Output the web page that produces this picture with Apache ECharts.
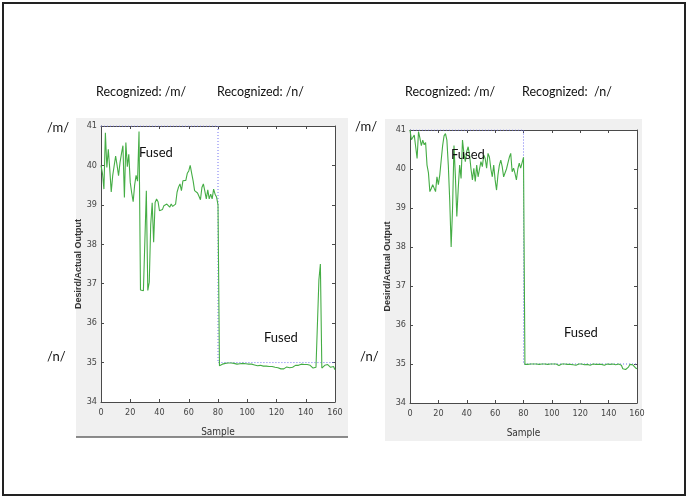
<!DOCTYPE html>
<html>
<head>
<meta charset="utf-8">
<script src="https://cdn.jsdelivr.net/npm/echarts@6/dist/echarts.min.js"></script>
<style>
html,body{margin:0;padding:0;background:#fff;}
#chart{width:688px;height:498px;}
</style>
</head>
<body>
<div id="chart"></div>
<script>
// ---- data ----
var xTicks = [0, 20, 40, 60, 80, 100, 120, 140, 160];
var yTicks = [34, 35, 36, 37, 38, 39, 40, 41];
var desiredX = [0, 80, 80, 160];
var desiredY = [41, 41, 35, 35];
// left panel: actual (fused) output, samples 0..160
var leftActual = [
 40.0, 39.8, 39.4, 40.83, 39.95, 40.41, 39.9, 39.33, 39.74, 39.72,
 40.24, 40.0, 39.74, 40.07, 40.3, 40.5, 39.19, 40.58, 39.97, 40.28,
 39.57, 39.3, 39.08, 39.5, 39.75, 39.6, 40.86, 36.84, 36.82, 36.82,
 36.83, 39.36, 36.83, 37.04, 38.5, 39.05, 38.05, 39.06, 39.15, 39.08,
 38.85, 38.81, 38.88, 38.98, 39.0, 39.02, 38.97, 38.94, 39.02, 38.96,
 38.94, 39.02, 39.32, 39.45, 39.53, 39.36, 39.61, 39.6, 39.62, 39.8,
 39.86, 40.0, 39.8, 39.61, 39.36, 39.33, 39.3, 39.22, 39.13, 39.44,
 39.53, 39.35, 39.15, 39.38, 39.15, 39.27, 39.15, 39.4, 39.27, 39.2,
 39.0, 34.92, 34.94, 34.96, 34.99, 34.98, 34.97, 34.99, 35.0, 34.99,
 34.98, 34.98, 34.97, 34.96, 34.99, 34.97, 34.96, 34.98, 34.99, 34.97,
 34.95, 34.96, 34.98, 34.96, 34.93, 34.94, 34.95, 34.92, 34.91, 34.93,
 34.92, 34.91, 34.92, 34.91, 34.91, 34.9, 34.91, 34.9, 34.9, 34.88,
 34.89, 34.87, 34.86, 34.84, 34.82, 34.84, 34.87, 34.89, 34.9, 34.87,
 34.85, 34.88, 34.92, 34.93, 34.91, 34.93, 34.95, 34.96, 34.97, 34.95,
 34.92, 34.95, 34.9, 34.93, 34.88, 34.86, 34.9, 34.88, 34.86, 37.1,
 37.5, 34.86, 34.9, 34.93, 34.91, 34.95, 34.92, 34.88, 34.85, 34.9,
 34.82
];
// right panel: actual (fused) output, samples 0..160
var rightActual = [
 41.0, 40.75, 40.8, 40.87, 40.57, 40.27, 40.96, 40.79, 40.6, 40.74,
 40.62, 40.68, 40.1, 39.9, 39.42, 39.5, 39.6, 39.6, 39.42, 39.8,
 39.6, 39.85, 40.23, 40.6, 40.85, 40.91, 40.74, 40.1, 39.2, 38.0,
 39.0, 40.6, 39.8, 38.78, 39.5, 40.1, 39.76, 40.74, 40.4, 40.19,
 40.45, 40.57, 40.35, 40.0, 39.72, 40.02, 39.68, 40.1, 39.8, 40.0,
 40.19, 40.06, 40.36, 40.27, 40.02, 40.4, 40.3, 40.0, 39.8, 40.1,
 39.72, 39.46, 39.85, 40.1, 40.23, 40.06, 39.8, 39.8, 40.0, 40.15,
 40.3, 40.4, 39.93, 40.02, 39.89, 39.72, 40.0, 40.15, 40.02, 39.98,
 40.3, 34.99, 35.0, 34.99, 35.0, 35.0, 34.99, 35.0, 34.99, 35.0,
 35.0, 34.99, 35.0, 35.0, 34.99, 35.0, 35.0, 34.99, 35.0, 35.0,
 34.99, 35.0, 34.99, 35.0, 34.98, 34.96, 34.99, 35.0, 34.99, 35.0,
 35.0, 34.99, 35.0, 34.99, 34.99, 34.98, 34.98, 34.97, 34.99, 35.0,
 34.99, 35.0, 34.99, 34.98, 34.97, 34.99, 35.0, 34.97, 34.99, 35.0,
 35.0, 34.99, 35.0, 34.99, 34.98, 34.99, 35.0, 34.97, 34.99, 35.0,
 35.0, 34.99, 34.99, 35.0, 34.99, 34.98, 34.99, 35.0, 34.95, 34.97,
 34.88, 34.86, 34.86, 34.87, 34.92, 34.99, 35.0, 34.98, 35.0, 34.9,
 34.88
];
var titleTexts = ['Recognized: /m/', 'Recognized: /n/', 'Recognized: /m/', 'Recognized:  /n/'];
var classLabels = ['/m/', '/n/'];
var fusedLabel = 'Fused';
var yAxisName = 'Desird/Actual Output';
var xAxisName = 'Sample';

// ---- build ----
function pairs(xs, ys){ var out=[]; for(var i=0;i<xs.length;i++){ out.push([xs[i], ys[i]]); } return out; }
function indexed(vals){ var out=[]; for(var i=0;i<vals.length;i++){ out.push([i, vals[i]]); } return out; }

var tickFont = 'Liberation Sans Narrow, DejaVu Sans Condensed, Arial Narrow, sans-serif';
var textFont = 'Lato, Open Sans, sans-serif';
var axisColor = '#4a4a4a';
var green = '#45ad45';
var blue = '#7474f2';

var grids = [
  {left: 101, top: 126, width: 234, height: 276, show: true, backgroundColor: '#fff', borderWidth: 0},
  {left: 410, top: 130, width: 227, height: 273, show: true, backgroundColor: '#fff', borderWidth: 0}
];

var xAxes = [], yAxes = [];
for (var g = 0; g < 2; g++) {
  xAxes.push({
    type: 'value', gridIndex: g, min: 0, max: 160, interval: 20, position: 'bottom',
    name: xAxisName, nameLocation: 'middle', nameGap: 25,
    nameTextStyle: {color: '#333', fontSize: 10, fontFamily: tickFont},
    axisLine: {show: true, onZero: false, lineStyle: {color: axisColor, width: 1}},
    axisTick: {show: true, inside: true, length: 3, lineStyle: {color: axisColor}},
    axisLabel: {show: true, color: '#444', fontSize: 9, fontFamily: tickFont, margin: 6},
    splitLine: {show: false}
  });
  xAxes.push({
    type: 'value', gridIndex: g, min: 0, max: 160, interval: 20, position: 'top',
    axisLine: {show: true, onZero: false, lineStyle: {color: axisColor, width: 1}},
    axisTick: {show: true, inside: true, length: 3, lineStyle: {color: axisColor}},
    axisLabel: {show: false}, splitLine: {show: false}
  });
  yAxes.push({
    type: 'value', gridIndex: g, min: 34, max: 41, interval: 1, position: 'left',
    name: yAxisName, nameLocation: 'middle', nameGap: 14, nameRotate: 90,
    nameTextStyle: {color: '#333', fontSize: 9, fontWeight: 'bold', fontFamily: 'Liberation Sans, Arial, sans-serif'},
    axisLine: {show: true, onZero: false, lineStyle: {color: axisColor, width: 1}},
    axisTick: {show: true, inside: true, length: 3, lineStyle: {color: axisColor}},
    axisLabel: {show: true, color: '#444', fontSize: 9, fontFamily: tickFont, margin: 4},
    splitLine: {show: false}
  });
  yAxes.push({
    type: 'value', gridIndex: g, min: 34, max: 41, interval: 1, position: 'right',
    axisLine: {show: true, onZero: false, lineStyle: {color: axisColor, width: 1}},
    axisTick: {show: true, inside: true, length: 3, lineStyle: {color: axisColor}},
    axisLabel: {show: false}, splitLine: {show: false}
  });
}

var series = [];
var actuals = [leftActual, rightActual];
for (var k = 0; k < 2; k++) {
  series.push({
    type: 'line', xAxisIndex: 2*k, yAxisIndex: 2*k, data: pairs(desiredX, desiredY),
    showSymbol: false, silent: true, z: 3,
    lineStyle: {color: blue, width: 1, type: [1, 2]}
  });
  series.push({
    type: 'line', xAxisIndex: 2*k, yAxisIndex: 2*k, data: indexed(actuals[k]),
    showSymbol: false, silent: true, z: 4,
    lineStyle: {color: green, width: 1.1}
  });
}

function txt(x, y, s, size){
  return {type: 'text', x: x, y: y, z: 100, silent: true,
    style: {text: s, fill: '#111', font: size + 'px ' + textFont,
      textAlign: 'left', textVerticalAlign: 'middle', align: 'left', verticalAlign: 'middle'}};
}

var graphics = [
  {type: 'rect', shape: {x: 3, y: 3, width: 682, height: 492}, style: {fill: '#fff', stroke: '#222', lineWidth: 2}, z: -20, silent: true},
  {type: 'rect', shape: {x: 76, y: 118, width: 272, height: 319}, style: {fill: '#f0f0f0'}, z: -10, silent: true},
  {type: 'rect', shape: {x: 385, y: 119, width: 257, height: 322}, style: {fill: '#f0f0f0'}, z: -10, silent: true},
  {type: 'line', shape: {x1: 76, y1: 437, x2: 348, y2: 437}, style: {stroke: '#666', lineWidth: 1.5}, z: -5, silent: true},
  txt(96, 92, titleTexts[0], 12.5),
  txt(217, 92, titleTexts[1], 12.5),
  txt(405, 92, titleTexts[2], 12.5),
  txt(522, 92, titleTexts[3], 12.5),
  txt(47, 128, classLabels[0], 13),
  txt(47, 357, classLabels[1], 13),
  txt(355, 127, classLabels[0], 13),
  txt(360, 357, classLabels[1], 13),
  txt(139, 153, fusedLabel, 13),
  txt(264, 338, fusedLabel, 13),
  txt(451, 155, fusedLabel, 13),
  txt(564, 333, fusedLabel, 13)
];

var chart = echarts.init(document.getElementById('chart'), null, {renderer: 'canvas'});
chart.setOption({
  animation: false,
  backgroundColor: '#fff',
  grid: grids,
  xAxis: xAxes,
  yAxis: yAxes,
  series: series,
  graphic: graphics
});
</script>
</body>
</html>
